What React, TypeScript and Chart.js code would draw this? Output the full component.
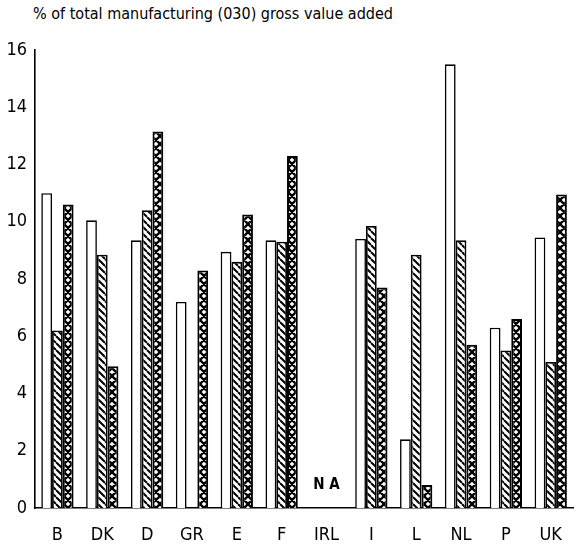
import React, { useEffect, useRef } from "react";
import { Chart, registerables } from "chart.js";

Chart.register(...registerables);

const countries = ["B", "DK", "D", "GR", "E", "F", "IRL", "I", "L", "NL", "P", "UK"];
const seriesPlain = [11.0, 10.05, 9.35, 7.2, 8.95, 9.35, null, 9.4, 2.4, 15.5, 6.3, 9.45];
const seriesHatched = [6.2, 8.85, 10.4, null, 8.6, 9.3, null, 9.85, 8.85, 9.35, 5.5, 5.1];
const seriesCross = [10.6, 4.95, 13.15, 8.3, 10.25, 12.3, null, 7.7, 0.8, 5.7, 6.6, 10.95];
const yTicks = [0, 2, 4, 6, 8, 10, 12, 14, 16];
const naCategory = "IRL";
const titleText = "% of total manufacturing (030) gross value added";

const FONT = '"Liberation Sans Narrow", "DejaVu Sans Condensed", "Noto Sans", sans-serif';

function makePattern(size: number, lw: number, cross: boolean): CanvasPattern | string {
  const c = document.createElement("canvas");
  c.width = size;
  c.height = size;
  const ctx = c.getContext("2d");
  if (!ctx) return "#fff";
  ctx.fillStyle = "#fff";
  ctx.fillRect(0, 0, size, size);
  ctx.strokeStyle = "#000";
  ctx.lineWidth = lw;
  ctx.beginPath();
  for (const k of [-size, 0, size]) {
    ctx.moveTo(k, 0);
    ctx.lineTo(k + size, size);
    if (cross) {
      ctx.moveTo(k, size);
      ctx.lineTo(k + size, 0);
    }
  }
  ctx.stroke();
  const p = ctx.createPattern(c, "repeat");
  return p || "#fff";
}

const naPlugin = {
  id: "naLabel",
  afterDatasetsDraw(chart: any) {
    const x = chart.scales.x.getPixelForValue(countries.indexOf(naCategory));
    const y = chart.scales.y.getPixelForValue(0.8);
    const ctx = chart.ctx;
    ctx.save();
    ctx.font = `bold 15px ${FONT}`;
    ctx.fillStyle = "#000";
    ctx.textAlign = "center";
    ctx.textBaseline = "middle";
    ctx.fillText("N A", x, y);
    ctx.restore();
  },
};

export default function App() {
  const ref = useRef<HTMLCanvasElement | null>(null);
  useEffect(() => {
    if (!ref.current) return;
    const hatch = makePattern(7, 2, false);
    const crossP = makePattern(8, 2.3, true);
    const chart = new Chart(ref.current, {
      type: "bar",
      data: {
        labels: countries,
        datasets: [
          { label: "Series A", data: seriesPlain, backgroundColor: "#fff", borderColor: "#000", borderWidth: 1.6 },
          { label: "Series B", data: seriesHatched, backgroundColor: hatch as any, borderColor: "#000", borderWidth: 1.8 },
          { label: "Series C", data: seriesCross, backgroundColor: crossP as any, borderColor: "#000", borderWidth: 2 },
        ],
      },
      options: {
        animation: false,
        responsive: false,
        maintainAspectRatio: false,
        layout: { padding: { top: 50, left: 0, right: 1, bottom: 0 } },
        plugins: { legend: { display: false }, tooltip: { enabled: false }, title: { display: false } },
        datasets: { bar: { categoryPercentage: 0.72, barPercentage: 1.0 } },
        scales: {
          x: {
            grid: { display: false, drawTicks: false },
            border: { display: true, color: "#000", width: 1.6 },
            ticks: { color: "#000", font: { family: FONT, size: 18 }, padding: 17 },
            afterFit: (s: any) => { s.height = 36; },
          },
          y: {
            min: 0,
            max: 16,
            afterBuildTicks: (s: any) => { s.ticks = yTicks.map((v) => ({ value: v })); },
            grid: { display: false, drawTicks: false },
            border: { display: true, color: "#000", width: 1.6 },
            ticks: { color: "#000", font: { family: FONT, size: 18 }, padding: 8 },
            afterFit: (s: any) => { s.width = 35; },
          },
        },
      },
      plugins: [naPlugin],
    });
    return () => chart.destroy();
  }, []);
  return (
    <div style={{ position: "absolute", left: 0, top: 0, width: 579, height: 544, background: "#fff" }}>
      <div style={{ position: "absolute", left: 33, top: 4, fontFamily: FONT, fontSize: 16, color: "#000", whiteSpace: "nowrap" }}>
        {titleText}
      </div>
      <canvas ref={ref} width={579} height={544} style={{ position: "absolute", left: 0, top: 0 }} />
    </div>
  );
}
